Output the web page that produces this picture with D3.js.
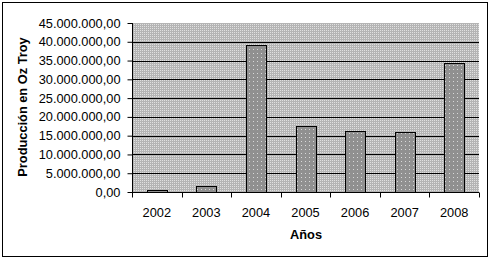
<!DOCTYPE html>
<html><head><meta charset="utf-8">
<script src="https://cdn.jsdelivr.net/npm/d3@7"></script>
<style>body{margin:0;background:#fff}svg{display:block}</style>
</head><body>
<script>
const years = ["2002","2003","2004","2005","2006","2007","2008"];
const production = [600000, 1700000, 39100000, 17600000, 16200000, 15900000, 34300000];
const yTicks = [0,5000000,10000000,15000000,20000000,25000000,30000000,35000000,40000000,45000000];
const yTitle = "Producción en Oz Troy";
const xTitle = "Años";

const W = 491, H = 261;
const m = {left:132, right:479, top:23, bottom:192};
const svg = d3.select("body").append("svg").attr("width",W).attr("height",H);
const defs = svg.append("defs");
const bg = defs.append("pattern").attr("id","bgp").attr("patternUnits","userSpaceOnUse").attr("width",2).attr("height",2);
bg.append("rect").attr("width",2).attr("height",2).attr("fill","#b4b4b4");
bg.append("rect").attr("width",1).attr("height",1).attr("fill","#e0e0e0");
const bp = defs.append("pattern").attr("id","barp").attr("patternUnits","userSpaceOnUse").attr("width",4).attr("height",4);
bp.append("rect").attr("width",4).attr("height",4).attr("fill","#909090");
bp.append("rect").attr("x",1).attr("y",1).attr("width",1).attr("height",1).attr("fill","#d8d8d8");

svg.append("rect").attr("x",2.5).attr("y",2.5).attr("width",485).attr("height",254).attr("fill","#fff").attr("stroke","#000").attr("stroke-width",1);

const x = d3.scaleBand().domain(years).range([m.left,m.right]).paddingInner(0.6).paddingOuter(0.3);
const xb = d3.scaleBand().domain(years).range([m.left,m.right]);
const y = d3.scaleLinear().domain([0,45000000]).range([m.bottom,m.top]);

svg.append("rect").attr("x",m.left).attr("y",m.top).attr("width",m.right-m.left).attr("height",m.bottom-m.top).attr("fill","url(#bgp)");

svg.append("g").selectAll("line").data(yTicks.filter(d=>d>0 && d<45000000)).join("line")
  .attr("x1",m.left).attr("x2",m.right).attr("y1",d=>Math.round(y(d))+0.5).attr("y2",d=>Math.round(y(d))+0.5)
  .attr("stroke","#000");

svg.append("g").selectAll("rect").data(years).join("rect")
  .attr("x",d=>Math.round(x(d))+0.5).attr("width",Math.round(x.bandwidth()))
  .attr("y",(d,i)=>Math.round(y(production[i]))+0.5)
  .attr("height",(d,i)=>Math.round(m.bottom-y(production[i])))
  .attr("fill","url(#barp)").attr("stroke","#000").attr("stroke-width",1);

const fmt = v => d3.formatLocale({decimal:",",thousands:".",grouping:[3],currency:["",""]}).format(",.2f")(v);
const ya = svg.append("g").attr("transform",`translate(${m.left+0.5},0)`)
  .call(d3.axisLeft(y).tickValues(yTicks).tickFormat(fmt).tickSize(5).tickPadding(7));
ya.select(".domain").attr("d",`M0,${m.top}V${m.bottom+0.5}`).attr("stroke","#000");
ya.selectAll("text").attr("font-family","Liberation Sans, Arial, sans-serif").attr("font-size","12.8px").attr("fill","#000");

const xa = svg.append("g").attr("transform",`translate(0,${m.bottom+0.5})`);
xa.append("line").attr("x1",m.left).attr("x2",m.right).attr("stroke","#000");
xa.selectAll("line.t").data(years.concat(["end"])).join("line").attr("class","t")
  .attr("x1",(d,i)=>Math.round(m.left+i*xb.step())+0.5).attr("x2",(d,i)=>Math.round(m.left+i*xb.step())+0.5)
  .attr("y1",0).attr("y2",5).attr("stroke","#000");
xa.selectAll("text").data(years).join("text")
  .attr("x",d=>xb(d)+xb.bandwidth()/2).attr("y",24)
  .attr("text-anchor","middle").attr("font-family","Liberation Sans, Arial, sans-serif").attr("font-size","12.8px").text(d=>d);

svg.append("text").attr("x",306).attr("y",239).attr("text-anchor","middle")
  .attr("font-family","Liberation Sans, Arial, sans-serif").attr("font-size","12.8px").attr("font-weight","bold").text(xTitle);
svg.append("text").attr("transform","translate(27,107) rotate(-90)").attr("text-anchor","middle")
  .attr("font-family","Liberation Sans, Arial, sans-serif").attr("font-size","12.8px").attr("font-weight","bold").text(yTitle);
</script>
</body></html>
